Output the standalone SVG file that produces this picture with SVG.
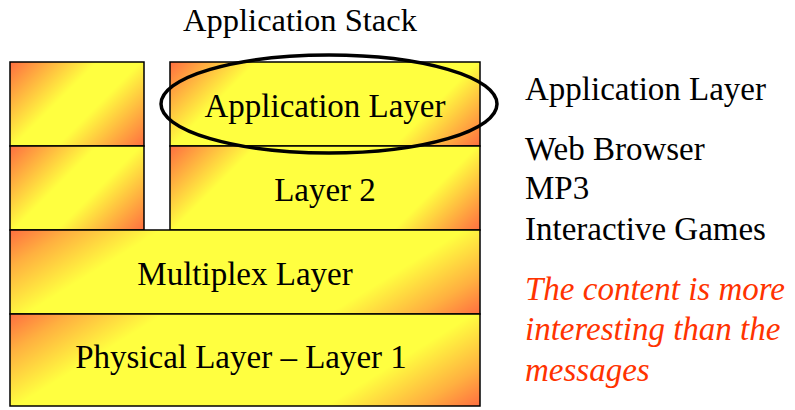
<svg xmlns="http://www.w3.org/2000/svg" width="795" height="410" viewBox="0 0 795 410">
  <defs>
    <!-- diagonal corner shading: orange corners, yellow centre band -->
    <linearGradient id="gSmallL" gradientUnits="userSpaceOnUse" x1="10" y1="62" x2="119" y2="171">
      <stop offset="0" stop-color="#ff6e40"/>
      <stop offset="0.4" stop-color="#ffff40"/>
      <stop offset="0.6" stop-color="#ffff40"/>
      <stop offset="1" stop-color="#ff6e40"/>
    </linearGradient>
    <linearGradient id="gSmallL2" gradientUnits="userSpaceOnUse" x1="10" y1="146" x2="119" y2="255">
      <stop offset="0" stop-color="#ff6e40"/>
      <stop offset="0.4" stop-color="#ffff40"/>
      <stop offset="0.6" stop-color="#ffff40"/>
      <stop offset="1" stop-color="#ff6e40"/>
    </linearGradient>
    <linearGradient id="gApp" gradientUnits="userSpaceOnUse" x1="170" y1="62" x2="367" y2="259">
      <stop offset="0" stop-color="#ff6e40"/>
      <stop offset="0.22" stop-color="#ffff40"/>
      <stop offset="0.78" stop-color="#ffff40"/>
      <stop offset="1" stop-color="#ff6e40"/>
    </linearGradient>
    <linearGradient id="gL2" gradientUnits="userSpaceOnUse" x1="170" y1="146" x2="367" y2="343">
      <stop offset="0" stop-color="#ff6e40"/>
      <stop offset="0.22" stop-color="#ffff40"/>
      <stop offset="0.78" stop-color="#ffff40"/>
      <stop offset="1" stop-color="#ff6e40"/>
    </linearGradient>
    <linearGradient id="gMux" gradientUnits="userSpaceOnUse" x1="10" y1="230" x2="178" y2="501">
      <stop offset="0" stop-color="#ff6e40"/>
      <stop offset="0.1" stop-color="#ffb040"/>
      <stop offset="0.25" stop-color="#ffff40"/>
      <stop offset="0.75" stop-color="#ffff40"/>
      <stop offset="0.9" stop-color="#ffb040"/>
      <stop offset="1" stop-color="#ff6e40"/>
    </linearGradient>
    <linearGradient id="gPhy" gradientUnits="userSpaceOnUse" x1="10" y1="314" x2="182" y2="591">
      <stop offset="0" stop-color="#ff6e40"/>
      <stop offset="0.1" stop-color="#ffb040"/>
      <stop offset="0.25" stop-color="#ffff40"/>
      <stop offset="0.75" stop-color="#ffff40"/>
      <stop offset="0.9" stop-color="#ffb040"/>
      <stop offset="1" stop-color="#ff6e40"/>
    </linearGradient>
  </defs>
  <style>
    .box { stroke: #000; stroke-width: 1.5; }
    .t { font-family: "Liberation Serif", "Times New Roman", serif; font-size: 33px; fill: #000; }
    .c { text-anchor: middle; }
    .red { font-family: "Liberation Serif", "Times New Roman", serif; font-size: 33px; font-style: italic; fill: #ff3300; }
  </style>

  <rect width="795" height="410" fill="#fff"/>

  <text class="t c" x="300" y="31" style="font-size:32.5px">Application Stack</text>

  <g id="side-top">
    <rect class="box" x="10" y="62" width="134" height="84" fill="url(#gSmallL)"/>
  </g>
  <g id="side-mid">
    <rect class="box" x="10" y="146" width="134" height="84" fill="url(#gSmallL2)"/>
  </g>
  <g id="application-layer">
    <rect class="box" x="170" y="62" width="310" height="84" fill="url(#gApp)"/>
    <text class="t c" x="325" y="117">Application Layer</text>
  </g>
  <g id="layer-2">
    <rect class="box" x="170" y="146" width="310" height="84" fill="url(#gL2)"/>
    <text class="t c" x="325" y="201">Layer 2</text>
  </g>
  <g id="multiplex-layer">
    <rect class="box" x="10" y="230" width="470" height="84" fill="url(#gMux)"/>
    <text class="t c" x="245" y="285">Multiplex Layer</text>
  </g>
  <g id="physical-layer">
    <rect class="box" x="10" y="314" width="470" height="92" fill="url(#gPhy)"/>
    <text class="t c" x="241" y="368">Physical Layer – Layer 1</text>
  </g>

  <g id="highlight">
    <ellipse cx="329" cy="104" rx="168" ry="49" fill="none" stroke="#000" stroke-width="3.5"/>
  </g>

  <g id="notes">
    <text class="t" x="525" y="100">Application Layer</text>
    <text class="t" x="525" y="160">Web Browser</text>
    <text class="t" x="525" y="199">MP3</text>
    <text class="t" x="525" y="240">Interactive Games</text>
    <text class="red" x="525" y="300">The content is more</text>
    <text class="red" x="525" y="340">interesting than the</text>
    <text class="red" x="525" y="381">messages</text>
  </g>
</svg>
